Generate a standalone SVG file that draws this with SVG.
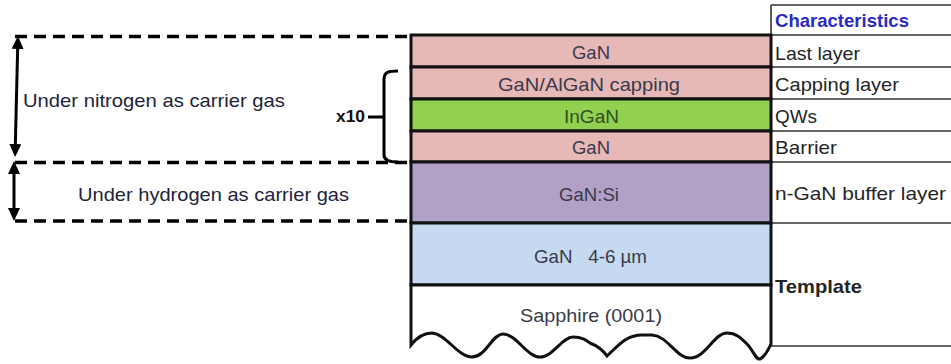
<svg xmlns="http://www.w3.org/2000/svg" width="951" height="364" viewBox="0 0 951 364">
<style>
  .lbl { font-family: "Liberation Sans", Arial, sans-serif; font-size: 19px; fill: #3a3a48; }
  .side { font-family: "Liberation Sans", Arial, sans-serif; font-size: 19px; fill: #22243a; }
  .cell { font-family: "Liberation Sans", Arial, sans-serif; font-size: 19px; fill: #252525; }
  .bold { font-weight: bold; }
  .layer { stroke: #111; stroke-width: 3; }
  .tline { stroke: #333; stroke-width: 1.6; fill: none; }
  .dash { stroke: #000; stroke-width: 3.3; stroke-dasharray: 12 7; fill: none; }
  .arrow { stroke: #000; stroke-width: 3; fill: none; marker-start: url(#ah); marker-end: url(#ah); }
  .brace { stroke: #000; stroke-width: 3; fill: none; }
</style>
<defs>
  <marker id="ah" viewBox="0 0 13 12" refX="7" refY="6" markerWidth="13" markerHeight="12" markerUnits="userSpaceOnUse" orient="auto-start-reverse">
    <path d="M0,0 L13,6 L0,12 z" fill="#000"/>
  </marker>
</defs>
<rect width="951" height="364" fill="#fff"/>

<!-- Table (characteristics column) -->
<g id="table">
  <path class="tline" d="M771,5 H951 M771,35 H951 M771,67 H951 M771,99 H951 M771,131 H951 M771,162 H951 M771,223 H951 M771,346 H951 M771,5 V346"/>
</g>
<g id="cell-header"><text class="cell bold" x="775" y="27" fill="#2626c0" style="fill:#2a2ac4" textLength="134" lengthAdjust="spacingAndGlyphs">Characteristics</text></g>
<g id="cell-last"><text class="cell" x="775" y="60" textLength="85" lengthAdjust="spacingAndGlyphs">Last layer</text></g>
<g id="cell-capping"><text class="cell" x="775" y="91" textLength="124" lengthAdjust="spacingAndGlyphs">Capping layer</text></g>
<g id="cell-qws"><text class="cell" x="775" y="123" textLength="42" lengthAdjust="spacingAndGlyphs">QWs</text></g>
<g id="cell-barrier"><text class="cell" x="775" y="154" textLength="62" lengthAdjust="spacingAndGlyphs">Barrier</text></g>
<g id="cell-buffer"><text class="cell" x="775" y="200" textLength="171" lengthAdjust="spacingAndGlyphs">n-GaN buffer layer</text></g>
<g id="cell-template"><text class="cell bold" x="775" y="293" textLength="87" lengthAdjust="spacingAndGlyphs">Template</text></g>

<!-- Layer stack -->
<g id="layer-gan-top">
  <rect class="layer" x="411" y="35" width="360" height="32" fill="#e6b9b8"/>
  <text class="lbl" x="591" y="59" text-anchor="middle" textLength="38" lengthAdjust="spacingAndGlyphs">GaN</text>
</g>
<g id="layer-capping">
  <rect class="layer" x="411" y="67" width="360" height="32" fill="#e6b9b8"/>
  <text class="lbl" x="589" y="91" text-anchor="middle" textLength="182" lengthAdjust="spacingAndGlyphs">GaN/AlGaN capping</text>
</g>
<g id="layer-ingan">
  <rect class="layer" x="411" y="99" width="360" height="32" fill="#92d050"/>
  <text class="lbl" x="591.5" y="123" text-anchor="middle" style="fill:#2f4f22" textLength="55" lengthAdjust="spacingAndGlyphs">InGaN</text>
</g>
<g id="layer-barrier">
  <rect class="layer" x="411" y="131" width="360" height="31" fill="#e6b9b8"/>
  <text class="lbl" x="591" y="154" text-anchor="middle" textLength="38" lengthAdjust="spacingAndGlyphs">GaN</text>
</g>
<g id="layer-gansi">
  <rect class="layer" x="411" y="162" width="360" height="61" fill="#b2a1c7"/>
  <text class="lbl" x="589" y="201" text-anchor="middle" textLength="60" lengthAdjust="spacingAndGlyphs">GaN:Si</text>
</g>
<g id="layer-gan-template">
  <rect class="layer" x="411" y="223" width="360" height="62" fill="#c5d9f1"/>
  <text class="lbl" x="590.5" y="263" text-anchor="middle" xml:space="preserve" textLength="113" lengthAdjust="spacingAndGlyphs">GaN   4-6 µm</text>
</g>
<g id="layer-sapphire">
  <path class="layer" fill="#fff" d="M411,285 L411,345 C418,336 424,333 432,333 C446,334 458,357 472,357 C486,357 492,334 503,334 C516,334 527,357 540,357 C553,357 562,337 573,337 C582,337 586,340 590,343 C598,346 602,349 607,356 C618,346 626,335 642,335 L652,335 C668,336 676,358 690,358 C706,358 714,333 727,333 C737,333 742,339 748,345 C754,352 756,360 760,359 C765,357 768,350 771,344 L771,285 Z"/>
  <text class="lbl" x="591" y="322" text-anchor="middle" textLength="142" lengthAdjust="spacingAndGlyphs">Sapphire (0001)</text>
</g>

<!-- Side labels -->
<g id="label-nitrogen"><text class="side" x="23" y="107" textLength="262" lengthAdjust="spacingAndGlyphs">Under nitrogen as carrier gas</text></g>
<g id="label-hydrogen"><text class="side" x="78" y="201" textLength="271" lengthAdjust="spacingAndGlyphs">Under hydrogen as carrier gas</text></g>
<g id="label-x10"><text class="side bold" x="336" y="122" style="font-size:17px;fill:#111" textLength="29" lengthAdjust="spacingAndGlyphs">x10</text></g>

<!-- Connectors -->
<g id="connectors">
  <path class="dash" d="M15,36.5 H411"/>
  <path class="dash" d="M15,162.5 H411"/>
  <path class="dash" d="M15,221 H411"/>
  <path class="arrow" d="M17.8,42 L15.2,151"/>
  <path class="arrow" d="M14,167 L14,215"/>
  <path class="brace" d="M398,71 C389,71 384,72 384,79 L384,155 C384,160 389,162 398,162 M368,117 H384"/>
</g>
</svg>
